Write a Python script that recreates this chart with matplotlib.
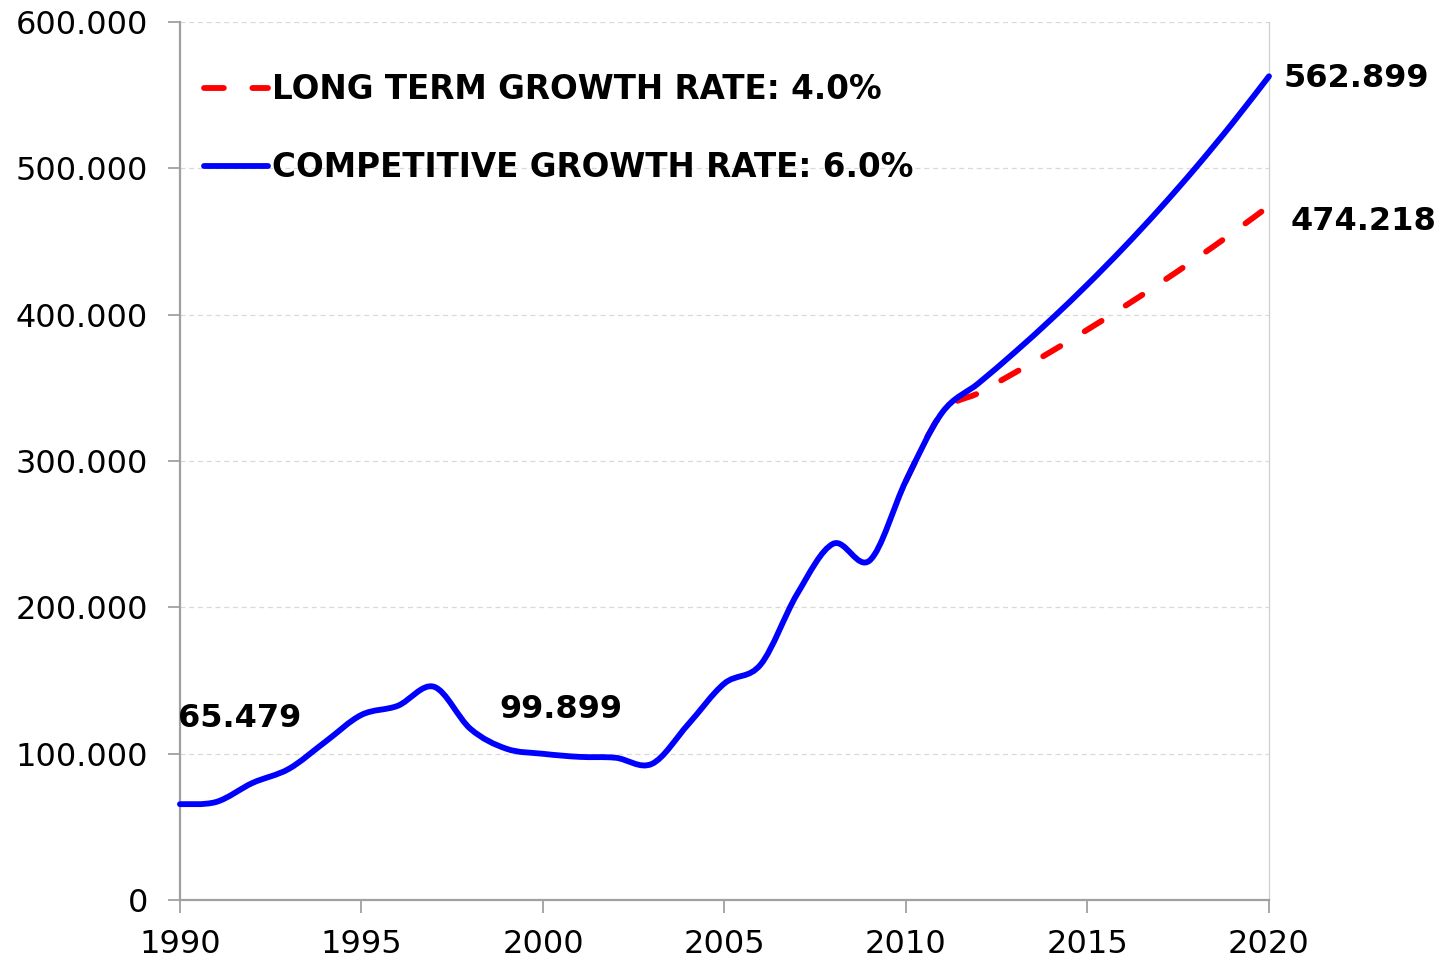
import matplotlib
matplotlib.use('Agg')
import matplotlib.pyplot as plt
from matplotlib.path import Path
from matplotlib.patches import PathPatch
from matplotlib.lines import Line2D
from matplotlib.ticker import FuncFormatter, MultipleLocator

plt.rcParams['font.family'] = ['DejaVu Sans']

# ---- data ----
years = list(range(1990, 2021))
competitive = [65479, 67000, 80000, 89600, 108000, 126500, 132700, 145700, 117000,
               103300, 99899, 97800, 97200, 93000, 120000, 148000, 161000, 209000,
               243500, 232000, 286500, 333175, 353166, 374356, 396817, 420626,
               445864, 472615, 500972, 531030, 562899]
lt_years = list(range(2010, 2021))
long_term = [286500, 333175, 346502, 360362, 374777, 389768, 405358, 421573,
             438435, 455973, 474218]

lt_label = "LONG TERM GROWTH RATE: 4.0%"
comp_label = "COMPETITIVE GROWTH RATE: 6.0%"

value_labels = ["65.479", "99.899", "562.899", "474.218"]
value_label_x = [1989.95, 1998.8, 2020.4, 2020.6]
value_label_y = [118300, 124500, 555400, 457600]

x_ticks = [1990, 1995, 2000, 2005, 2010, 2015, 2020]


def smooth_path(xs, ys):
    """Excel-like smoothed line as cubic Bezier segments."""
    n = len(xs)
    verts = [(xs[0], ys[0])]
    codes = [Path.MOVETO]
    for i in range(n - 1):
        x0, y0 = (xs[i - 1], ys[i - 1]) if i > 0 else (xs[i], ys[i])
        x1, y1 = xs[i], ys[i]
        x2, y2 = xs[i + 1], ys[i + 1]
        x3, y3 = (xs[i + 2], ys[i + 2]) if i + 2 < n else (x2, y2)
        c1 = (x1 + (x2 - x0) / 6.0, y1 + (y2 - y0) / 6.0)
        c2 = (x2 - (x3 - x1) / 6.0, y2 - (y3 - y1) / 6.0)
        verts += [c1, c2, (x2, y2)]
        codes += [Path.CURVE4] * 3
    return Path(verts, codes)


fig = plt.figure(figsize=(14.43, 9.61), dpi=100)
ax = fig.add_axes([0.1247, 0.0635, 0.7547, 0.9136])

lw = 4.2
red_dash = (0, (3.4, 4.9))

red_patch = PathPatch(smooth_path(lt_years, long_term), fill=False, edgecolor='#ff0000',
                      linewidth=lw, linestyle=red_dash, capstyle='round', zorder=3,
                      clip_on=False)
ax.add_patch(red_patch)
blue_patch = PathPatch(smooth_path(years, competitive), fill=False, edgecolor='#0000ff',
                       linewidth=lw, capstyle='round', joinstyle='round', zorder=4,
                       clip_on=False)
ax.add_patch(blue_patch)

ax.set_xlim(1990, 2020)
ax.set_ylim(0, 600000)

ax.yaxis.set_major_locator(MultipleLocator(100000))
ax.yaxis.set_major_formatter(FuncFormatter(lambda v, p: f"{v:,.0f}".replace(',', '.')))
ax.set_xticks(x_ticks)
ax.set_xticklabels([str(t) for t in x_ticks])

ax.grid(axis='y', color='#d9d9d9', linestyle=(0, (4, 3)), linewidth=0.9, zorder=0)
ax.grid(axis='x', visible=False)

for side in ['left', 'bottom']:
    ax.spines[side].set_color('#a0a0a0')
    ax.spines[side].set_linewidth(1.6)
ax.spines['top'].set_visible(False)
ax.spines['right'].set_color('#cfcfcf')
ax.spines['right'].set_linewidth(0.9)

ax.tick_params(axis='both', direction='out', length=9, width=1.3, color='#a0a0a0',
               labelsize=23, labelcolor='black')
ax.tick_params(axis='y', pad=14)
ax.tick_params(axis='x', pad=12)

for txt, x, y in zip(value_labels, value_label_x, value_label_y):
    ax.text(x, y, txt, ha='left', va='baseline', fontsize=23, fontweight='bold',
            color='black', clip_on=False, zorder=5)

handles = [Line2D([], [], color='#ff0000', linewidth=lw, linestyle=red_dash,
                  dash_capstyle='round'),
           Line2D([], [], color='#0000ff', linewidth=lw, solid_capstyle='round')]
leg = ax.legend(handles, [lt_label, comp_label], loc='upper left',
                bbox_to_anchor=(0.022, 0.9415), frameon=False, borderpad=0,
                borderaxespad=0, handlelength=1.96, handletextpad=0.12,
                labelspacing=1.38, prop={'size': 23.5, 'weight': 'bold'})

fig.savefig('out.png', dpi=100)
